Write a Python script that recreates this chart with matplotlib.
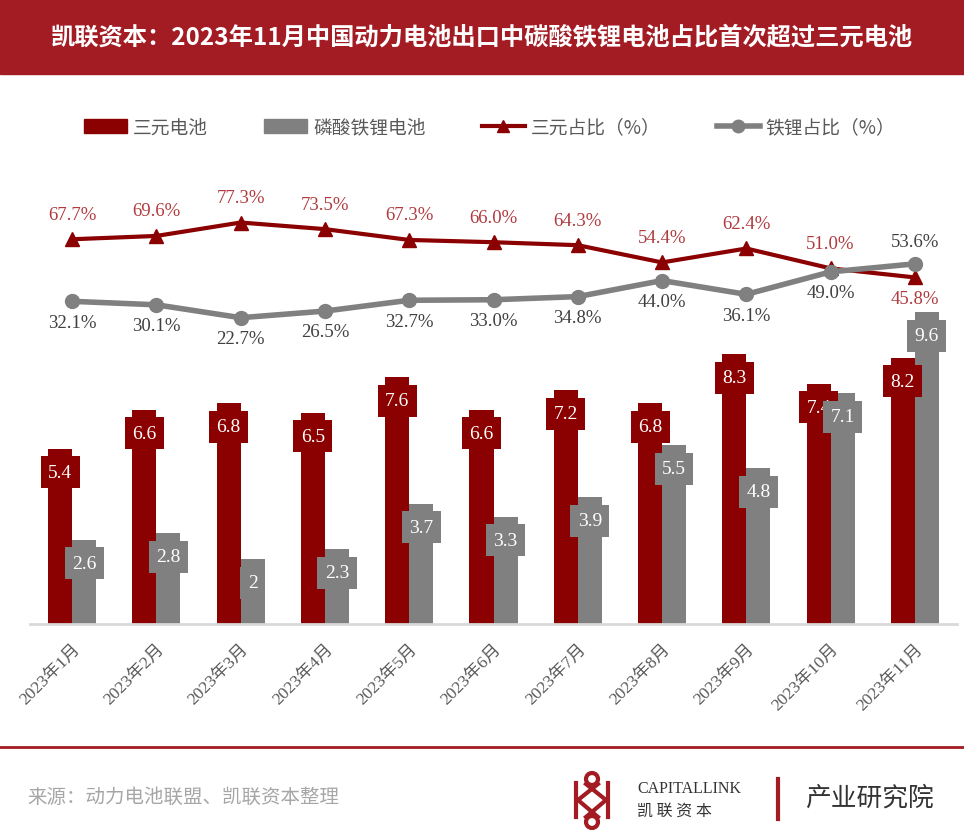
import matplotlib.pyplot as plt
from matplotlib.patches import Patch, Circle
from matplotlib.lines import Line2D
import numpy as np

months = ['2023年1月', '2023年2月', '2023年3月', '2023年4月', '2023年5月', '2023年6月',
          '2023年7月', '2023年8月', '2023年9月', '2023年10月', '2023年11月']
ternary = [5.4, 6.6, 6.8, 6.5, 7.6, 6.6, 7.2, 6.8, 8.3, 7.4, 8.2]
lfp = [2.6, 2.8, 2.0, 2.3, 3.7, 3.3, 3.9, 5.5, 4.8, 7.1, 9.6]
ternary_pct = [67.7, 69.6, 77.3, 73.5, 67.3, 66.0, 64.3, 54.4, 62.4, 51.0, 45.8]
lfp_pct = [32.1, 30.1, 22.7, 26.5, 32.7, 33.0, 34.8, 44.0, 36.1, 49.0, 53.6]

RED = '#8B0000'
GRAY = '#808080'
BAND = '#A31C24'
FONT = ['Liberation Serif', 'Noto Sans CJK SC', 'DejaVu Sans']
CJK = ['Noto Sans CJK SC', 'DejaVu Sans']
plt.rcParams['font.family'] = FONT

W, H = 964, 837
fig = plt.figure(figsize=(W / 100, H / 100), dpi=100)

# title band
fig.patches.append(plt.Rectangle((0, 1 - 75 / H), 1, 75 / H, transform=fig.transFigure,
                                 color=BAND, zorder=0))
fig.text(0.5, 1 - 38 / H, '凯联资本：2023年11月中国动力电池出口中碳酸铁锂电池占比首次超过三元电池',
         ha='center', va='center', color='white', fontsize=17.5, fontweight='bold', family=CJK)

# main axes
ax = fig.add_axes([30 / W, (H - 625) / H, 927 / W, 455 / H])
x = np.arange(len(months))
bw = 0.285
ax.bar(x - bw / 2, ternary, bw, color=RED, zorder=2)
ax.bar(x + bw / 2, lfp, bw, color=GRAY, zorder=2)
ax.set_xlim(-0.5, len(months) - 0.5)
ax.set_ylim(0, 14)
for s in ['top', 'left', 'right']:
    ax.spines[s].set_visible(False)
ax.spines['bottom'].set_color('#D9D9D9')
ax.spines['bottom'].set_linewidth(2)
ax.set_yticks([])
ax.set_xticks(x)
ax.tick_params(axis='x', length=0, pad=12)
ax.set_xticklabels(months, rotation=45, ha='right', va='top', rotation_mode='anchor',
                   color='#595959', fontsize=12.5)

for xs, vals, c in [(x - bw / 2, ternary, RED), (x + bw / 2, lfp, GRAY)]:
    for xi, v in zip(xs, vals):
        ax.annotate(f'{v:g}', (xi, v), xytext=(0, -17), textcoords='offset points',
                    ha='center', va='center', color='white', fontsize=14, zorder=4,
                    bbox=dict(boxstyle='square,pad=0.38', fc=c, ec='none'))

# percentage lines
ax2 = ax.twinx()
ax2.set_ylim(-153, 108)
ax2.axis('off')
ax2.plot(x, ternary_pct, color=RED, lw=3, marker='^', ms=10, zorder=3)
ax2.plot(x, lfp_pct, color=GRAY, lw=4, marker='o', ms=10, zorder=3)
for i, v in enumerate(ternary_pct):
    dy = -15 if i == len(x) - 1 else 18
    ax2.annotate(f'{v:.1f}%', (i, v), xytext=(0, dy), textcoords='offset points',
                 ha='center', va='center', color='#B03A3E', fontsize=13.5)
for i, v in enumerate(lfp_pct):
    dy = 16 if i == len(x) - 1 else -15
    ax2.annotate(f'{v:.1f}%', (i, v), xytext=(0, dy), textcoords='offset points',
                 ha='center', va='center', color='#404040', fontsize=13.5)

# legend
handles = [Patch(color=RED), Patch(color=GRAY),
           Line2D([], [], color=RED, lw=3, marker='^', ms=9),
           Line2D([], [], color=GRAY, lw=4, marker='o', ms=9)]
labels = ['三元电池', '磷酸铁锂电池', '三元占比（%）', '铁锂占比（%）']
fig.legend(handles, labels, loc='center', bbox_to_anchor=(0.508, 1 - 128 / H), ncol=4,
           frameon=False, handlelength=2.3, handleheight=0.85, columnspacing=3.0,
           handletextpad=0.3, prop={'family': CJK, 'size': 13.5}, labelcolor='#595959')

# footer
fig.add_artist(Line2D([0, 1], [1 - 748 / H] * 2, transform=fig.transFigure, color=BAND, lw=2))
fig.text(27 / W, 1 - 797 / H, '来源：动力电池联盟、凯联资本整理', ha='left', va='center',
         color='#A6A6A6', fontsize=14, family=CJK)

# logo
lg = fig.add_axes([565 / W, 0, 55 / W, 70 / H])
lg.set_xlim(565, 620)
lg.set_ylim(837, 767)
lg.axis('off')
lw = 3
lg.add_patch(Circle((592, 780), 6, fill=False, ec=BAND, lw=lw))
lg.add_patch(Circle((592, 823), 6, fill=False, ec=BAND, lw=lw))
lg.plot([576, 576], [784, 818], color=BAND, lw=lw)
lg.plot([608, 608], [784, 818], color=BAND, lw=lw)
lg.plot([586, 606, 586], [785, 801, 818], color=BAND, lw=lw)
lg.plot([598, 578, 598], [785, 801, 818], color=BAND, lw=lw)
fig.text(637 / W, 1 - 789 / H, 'CAPITALLINK', ha='left', va='center', color='#333333',
         fontsize=11.5, family='Liberation Serif')
fig.text(637 / W, 1 - 811 / H, '凯 联 资 本', ha='left', va='center', color='#333333',
         fontsize=11.5, family=CJK)
fig.add_artist(Line2D([778 / W] * 2, [1 - 780 / H, 1 - 820 / H], transform=fig.transFigure,
                      color=BAND, lw=3))
fig.text(805 / W, 1 - 799 / H, '产业研究院', ha='left', va='center', color='#333333',
         fontsize=18.5, family=CJK)

fig.savefig('out.png', dpi=100)
